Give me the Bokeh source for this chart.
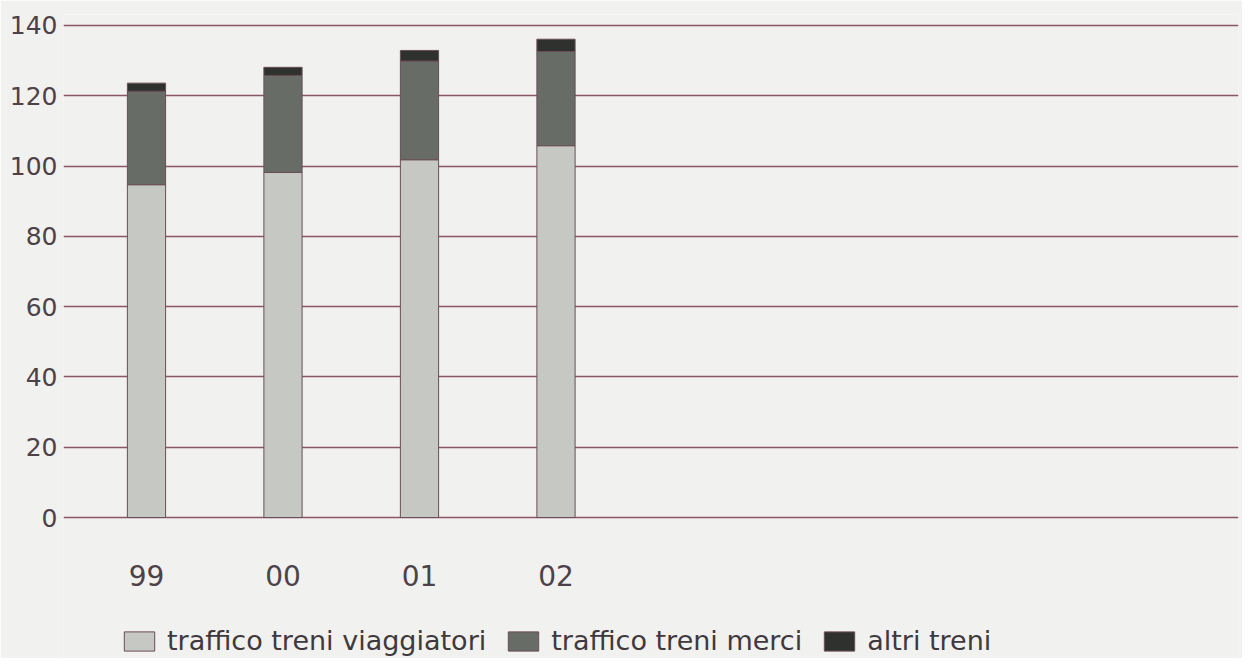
from bokeh.plotting import figure
from bokeh.models import Range1d, FixedTicker, Legend, LegendItem
from bokeh.embed import file_html
from bokeh.resources import INLINE

# ---- data ----
years = ["99", "00", "01", "02"]
viaggiatori = [94.7, 98.2, 101.8, 105.8]
merci = [26.6, 27.6, 28.1, 26.8]
altri = [2.3, 2.3, 3.0, 3.5]
series_names = ["traffico treni viaggiatori", "traffico treni merci", "altri treni"]
y_ticks = [0, 20, 40, 60, 80, 100, 120, 140]

colors = ["#c6c8c3", "#686c67", "#2f312e"]
bg = "#f1f1ef"
grid_col = "#8a5667"
text_col = "#4d4249"
FONT = "DejaVu Sans"

xs = list(range(len(years)))
data = {"x": xs, "v": viaggiatori, "m": merci, "a": altri}

p = figure(width=1242, height=658, output_backend="svg", toolbar_location=None,
           x_range=Range1d(-0.608, 8.0), y_range=Range1d(-40.12, 143.13),
           min_border_left=63, min_border_right=4, min_border_top=14, min_border_bottom=0)

rs = p.vbar_stack(["v", "m", "a"], x="x", width=0.28, source=data, color=colors,
                  line_color="#6a4d58", line_width=1)

p.background_fill_color = bg
p.border_fill_color = bg
p.outline_line_color = None

# y axis
p.yaxis.ticker = FixedTicker(ticks=y_ticks)
p.yaxis.axis_line_color = None
p.yaxis.major_tick_line_color = None
p.yaxis.minor_tick_line_color = None
p.yaxis.major_label_standoff = 0
p.yaxis.major_label_text_font = FONT
p.yaxis.major_label_text_font_size = "25px"
p.yaxis.major_label_text_color = text_col

# x axis, pinned at y = 0 inside the frame
p.xaxis.fixed_location = 0
p.xaxis.ticker = FixedTicker(ticks=xs)
p.xaxis.major_label_overrides = {i: y for i, y in enumerate(years)}
p.xaxis.axis_line_color = None
p.xaxis.major_tick_line_color = None
p.xaxis.minor_tick_line_color = None
p.xaxis.major_label_standoff = 41
p.xaxis.major_label_text_font = FONT
p.xaxis.major_label_text_font_size = "28px"
p.xaxis.major_label_text_color = text_col

p.xgrid.grid_line_color = None
p.ygrid.grid_line_color = grid_col
p.ygrid.grid_line_width = 1.6

# legend
lg = Legend(items=[LegendItem(label=n, renderers=[r]) for n, r in zip(series_names, rs)])
lg.orientation = "horizontal"
lg.location = (57, 2)
lg.glyph_width = 38
lg.glyph_height = 24
lg.label_height = 24
lg.label_standoff = 9
lg.spacing = 18
lg.padding = 0
lg.margin = 0
lg.label_text_font = FONT
lg.label_text_font_size = "27px"
lg.label_text_color = "#3f393d"
lg.background_fill_alpha = 0
lg.border_line_alpha = 0
p.add_layout(lg, "center")

open("out.html", "w").write(file_html(p, INLINE))
